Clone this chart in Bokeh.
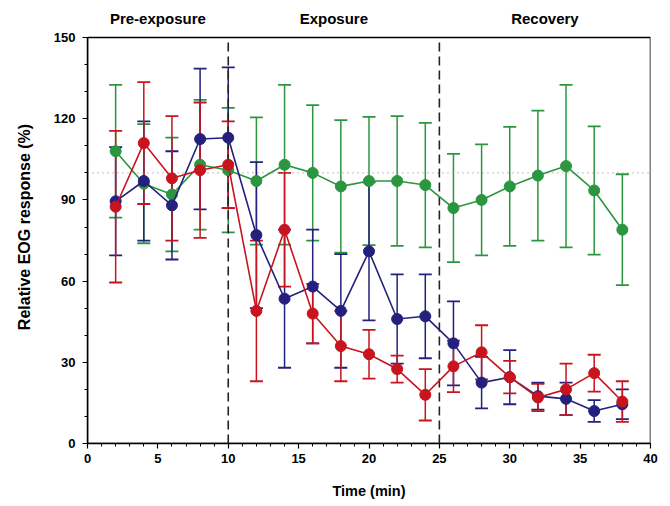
from bokeh.plotting import figure
from bokeh.models import ColumnDataSource, Whisker, TeeHead, Label, FixedTicker, Range1d
from bokeh.embed import file_html
from bokeh.resources import INLINE

time = [2, 4, 6, 8, 10, 12, 14, 16, 18, 20, 22, 24, 26, 28, 30, 32, 34, 36, 38]

green = [108, 96, 92, 103, 101, 97, 103, 100, 95, 97, 97, 95.5, 87, 90, 95, 99, 102.5, 93.5, 79]
green_err = [24.5, 22, 21, 24, 23, 23.5, 29.5, 25, 24.5, 23.7, 24, 23, 20, 20.5, 22, 24, 30, 23.7, 20.5]

blue = [89.5, 97, 88, 112.5, 113, 77, 53.5, 58, 49, 71, 46, 47, 37, 22.5, 24.5, 17.5, 16.5, 12, 14.5]
blue_err = [20, 22, 20, 26, 26, 27, 25.5, 21, 21, 25.5, 16.5, 15.5, 15.5, 9.5, 10, 5, 6, 4, 5.5]

red = [87.5, 111, 98, 101, 103, 49, 79, 48, 36, 33, 27.5, 18, 28.5, 33.7, 24.5, 17, 20, 26, 15.5]
red_err = [28, 22.5, 23, 25, 16, 26, 21, 11, 13, 9, 5, 9.5, 9.5, 10, 6, 5, 9.5, 6.8, 7.5]

x_ticks = [0, 5, 10, 15, 20, 25, 30, 35, 40]
y_ticks = [0, 30, 60, 90, 120, 150]
x_min, x_max = 0, 40
y_min, y_max = 0, 150
phase_labels = ["Pre-exposure", "Exposure", "Recovery"]
phase_x = [5, 17.5, 32.5]
phase_bounds = [10, 25]
baseline = 100

FONT = "Liberation Sans"

p = figure(width=662, height=505, output_backend="svg", toolbar_location=None,
           x_range=Range1d(x_min, x_max), y_range=Range1d(y_min, 160),
           min_border_left=87, min_border_right=12, min_border_top=10, min_border_bottom=62)
p.xgrid.visible = False
p.ygrid.visible = False
p.outline_line_color = None

for ax in (p.xaxis[0], p.yaxis[0]):
    ax.axis_line_width = 1.5
    ax.major_tick_line_width = 1.2
    ax.minor_tick_line_width = 1.0
    ax.major_tick_out = 5
    ax.major_tick_in = 0
    ax.minor_tick_out = 3
    ax.minor_tick_in = 0
    ax.major_label_text_font = FONT
    ax.major_label_text_font_style = "bold"
    ax.major_label_text_font_size = "13px"
    ax.major_label_text_color = "black"
    ax.axis_label_text_font = FONT
    ax.axis_label_text_font_style = "bold"
    ax.axis_label_text_color = "black"

p.xaxis.ticker = FixedTicker(ticks=x_ticks, minor_ticks=list(range(0, 41)))
p.yaxis.ticker = FixedTicker(ticks=y_ticks, minor_ticks=list(range(0, 151, 10)))
p.yaxis.bounds = (y_min, y_max)
p.xaxis.axis_label = "Time (min)"
p.yaxis.axis_label = "Relative EOG response (%)"
p.xaxis.axis_label_text_font_size = "14.5px"
p.yaxis.axis_label_text_font_size = "16px"
p.xaxis.axis_label_standoff = 17
p.yaxis.axis_label_standoff = 18
p.yaxis.major_label_standoff = 7

# plot box
p.quad(left=[x_min], right=[x_max], bottom=[y_min], top=[y_max],
       fill_color=None, line_color="black", line_width=1.5)

p.segment(x0=[x_min], y0=[baseline], x1=[x_max], y1=[baseline],
          line_color="#999999", line_dash="1 4", line_width=1.3)
p.segment(x0=phase_bounds, y0=[y_min] * 2, x1=phase_bounds, y1=[y_max] * 2,
          line_color="#222222", line_dash="9 5", line_width=1.6)

series = [
    (green, green_err, "#2b963f"),
    (blue, blue_err, "#23207e"),
    (red, red_err, "#c8141e"),
]

for vals, errs, col in series:
    src = ColumnDataSource(dict(x=time, y=vals,
                                lo=[v - e for v, e in zip(vals, errs)],
                                hi=[v + e for v, e in zip(vals, errs)]))
    w = Whisker(base="x", upper="hi", lower="lo", source=src, dimension="height",
                line_color=col, line_width=1.5,
                upper_head=TeeHead(size=13, line_color=col, line_width=1.8),
                lower_head=TeeHead(size=13, line_color=col, line_width=1.8))
    p.add_layout(w)
    p.line("x", "y", source=src, line_color=col, line_width=1.6)
    p.scatter("x", "y", source=src, size=11, fill_color=col, line_color=col)

for txt, xx in zip(phase_labels, phase_x):
    p.add_layout(Label(x=xx, y=157, text=txt, text_align="center", text_baseline="middle",
                       text_font=FONT, text_font_style="bold", text_font_size="15px",
                       text_color="black"))

open("out.html", "w").write(file_html(p, INLINE))
